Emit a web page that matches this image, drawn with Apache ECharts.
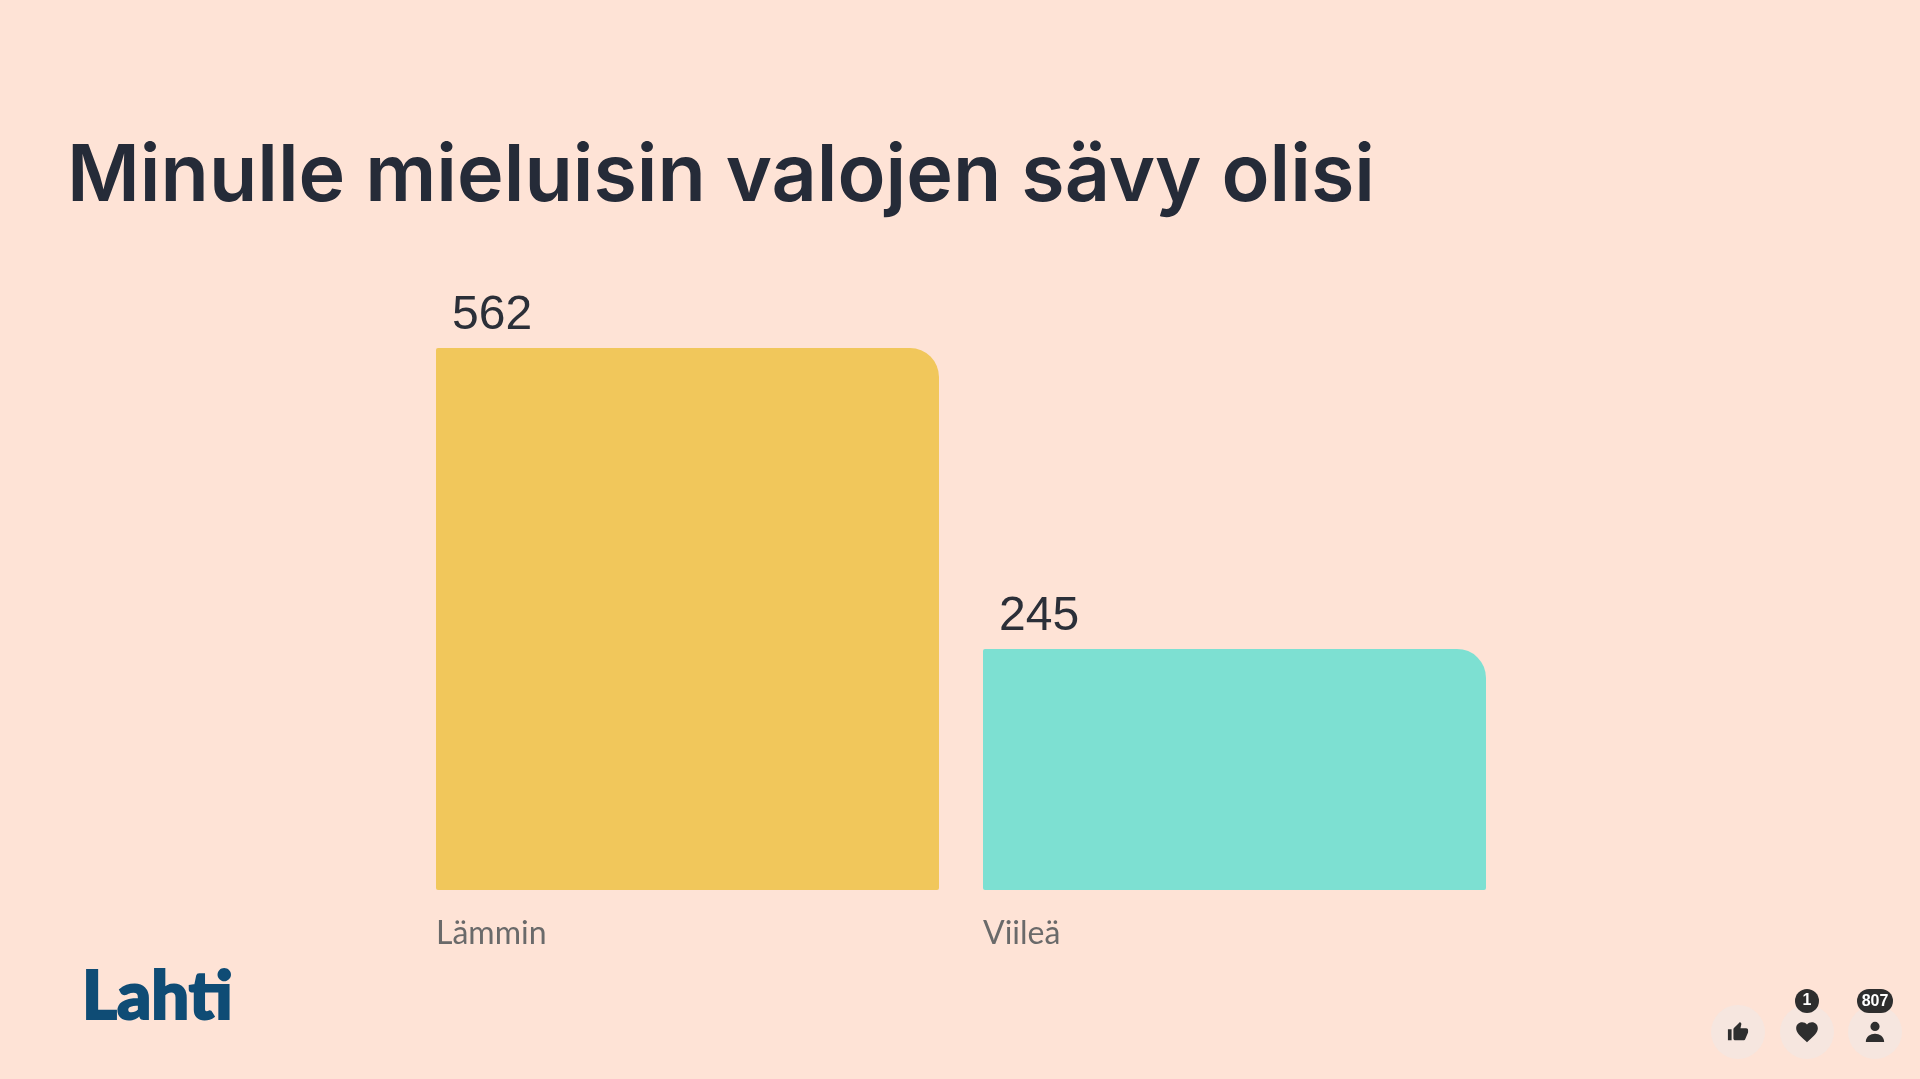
<!DOCTYPE html>
<html>
<head>
<meta charset="utf-8">
<title>Minulle mieluisin valojen sävy olisi</title>
<script src="https://cdn.jsdelivr.net/npm/echarts@6/dist/echarts.min.js"></script>
<style>
  html, body { margin: 0; padding: 0; background: #fee3d6; }
  #chart { width: 1920px; height: 1079px; }
</style>
</head>
<body>
<div id="chart"></div>
<script>
  const title_text = 'Minulle mieluisin valojen sävy olisi'
  const categories = ['Lämmin', 'Viileä']
  const values = [562, 245]
  const bar_colors = ['#f1c75b', '#7de0d2']
  const y_min = -9
  const y_max = 562
  const logo_text = 'Lahti'
  const like_count = '1'
  const viewer_count = '807'

  const dark = '#2b2f38'
  const icon_bg = '#f6e6df'
  const bar_width = 503

  // reaction icons, 24x24 paths
  echarts.graphic.registerShape('thumbIcon', echarts.graphic.extendPath('M1 21h4V9H1v12zm22-11c0-1.1-.9-2-2-2h-6.31l.95-4.57.03-.32c0-.41-.17-.79-.44-1.06L14.17 1 7.59 7.59C7.22 7.95 7 8.45 7 9v10c0 1.1.9 2 2 2h9c.83 0 1.54-.5 1.84-1.22l3.02-7.05c.09-.23.14-.47.14-.73v-2z', {}))
  echarts.graphic.registerShape('heartIcon', echarts.graphic.extendPath('M12 21.35l-1.45-1.32C5.4 15.36 2 12.28 2 8.5 2 5.42 4.42 3 7.5 3c1.74 0 3.41.81 4.5 2.09C13.09 3.81 14.76 3 16.5 3 19.58 3 22 5.42 22 8.5c0 3.78-3.4 6.86-8.55 11.54L12 21.35z', {}))
  echarts.graphic.registerShape('personIcon', echarts.graphic.extendPath('M12 2a5 5 0 1 1 0 10a5 5 0 1 1 0-10zM2 24c0-6 5-9 10-9s10 3 10 9z', {}))

  function icon(type, x, y, size) {
    return { type: type, x: x, y: y, scaleX: size / 24, scaleY: size / 24, style: { fill: '#2e2e2e' } }
  }
  function circle(x, y, r, fill) {
    return { type: 'circle', shape: { cx: x, cy: y, r: r }, style: { fill: fill } }
  }

  // the bars sit on the axis minimum, not on zero, so a plain bar series will not do
  function renderBar(params, api) {
    const i = api.value(0)
    const top = api.coord([i, api.value(1)])
    const bottom = api.coord([i, y_min])
    const left = top[0] - bar_width / 2
    return {
      type: 'group',
      children: [{
        type: 'rect',
        shape: { x: left, y: top[1], width: bar_width, height: bottom[1] - top[1], r: [2, 29, 2, 2] },
        style: { fill: bar_colors[i] }
      }, {
        type: 'text',
        style: {
          text: String(api.value(1)),
          x: left + 16,
          y: top[1] - 8,
          verticalAlign: 'bottom',
          fill: dark,
          font: '48px "Liberation Sans"'
        }
      }]
    }
  }

  const chart = echarts.init(document.getElementById('chart'))
  chart.setOption({
    backgroundColor: '#fee3d6',
    animation: false,
    title: {
      text: title_text,
      left: 62,
      top: 133,
      textStyle: {
        color: '#252b38',
        fontFamily: 'Inter',
        fontWeight: 600,
        fontSize: 79
      }
    },
    grid: { left: 414, right: 412, top: 348, bottom: 189 },
    xAxis: {
      type: 'category',
      data: categories,
      axisLine: { show: false },
      axisTick: { show: false },
      axisLabel: {
        margin: 28,
        align: 'center',
        formatter: '{a|{value}}',
        rich: {
          a: { width: bar_width, align: 'left', color: '#6a6a6a', fontFamily: 'Lato', fontSize: 32 }
        }
      }
    },
    yAxis: { type: 'value', show: false, min: y_min, max: y_max },
    series: [{
      type: 'custom',
      renderItem: renderBar,
      clip: false,
      data: values.map((v, i) => [i, v])
    }],
    graphic: [
      { type: 'text', x: 82, y: 964, style: { text: logo_text, fill: '#0f4c75', stroke: '#0f4c75', lineWidth: 2, font: '900 67px Lato' } },
      circle(1738, 1032, 27, icon_bg),
      circle(1807, 1032, 27, icon_bg),
      circle(1875, 1032, 27, icon_bg),
      icon('thumbIcon', 1727, 1021, 22),
      icon('heartIcon', 1794, 1019, 26),
      icon('personIcon', 1864, 1020, 22),
      circle(1807, 1001, 12, '#2e2e2e'),
      { type: 'rect', shape: { x: 1857, y: 989, width: 36, height: 24, r: 12 }, style: { fill: '#2e2e2e' } },
      { type: 'text', style: { text: like_count, x: 1807, y: 1001, align: 'center', verticalAlign: 'middle', fill: '#fff', font: '600 16px "Liberation Sans"' } },
      { type: 'text', style: { text: viewer_count, x: 1875, y: 1001.5, align: 'center', verticalAlign: 'middle', fill: '#fff', font: '600 16px "Liberation Sans"' } }
    ]
  })
</script>
</body>
</html>
